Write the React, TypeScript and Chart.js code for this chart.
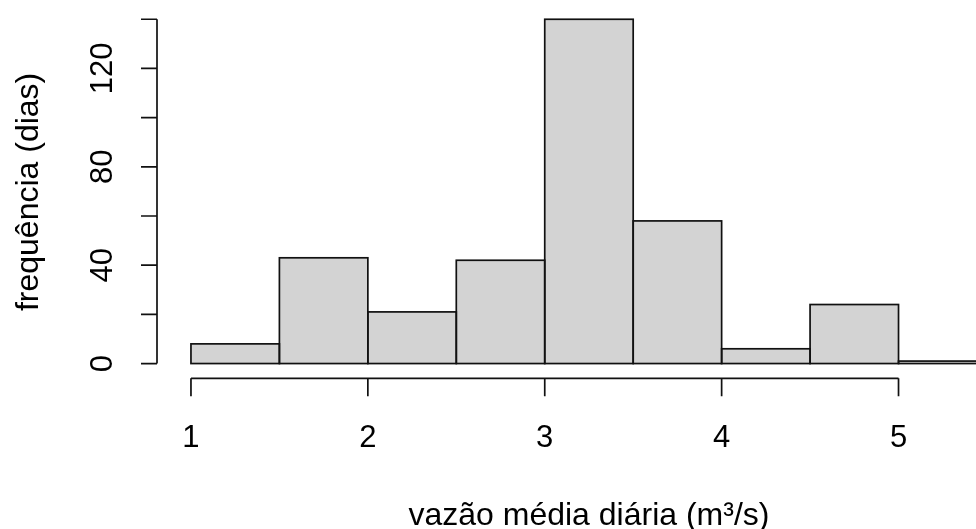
import React, { useEffect, useRef } from "react";
import { Chart, registerables } from "chart.js";

Chart.register(...registerables);

// ---- data ----
const binStarts = [1, 1.5, 2, 2.5, 3, 3.5, 4, 4.5, 5];
const binWidth = 0.5;
const counts = [8, 43, 21, 42, 140, 58, 6, 24, 1];
const xTicks = [1, 2, 3, 4, 5];
const yTicks = [0, 20, 40, 60, 80, 100, 120, 140];
const yTickLabels = [0, 40, 80, 120];
const xTitle = "vazão média diária (m³/s)";
const yTitle = "frequência (dias)";
const xRange = [0.808, 5.438];
const yRange = [-6, 145.6];
const xTitleCenter = 3.25;

const FONT = '"Liberation Sans", Arial, Helvetica, sans-serif';

const rAxesPlugin = {
  id: "rAxes",
  afterDatasetsDraw(chart: any) {
    const ctx = chart.ctx as CanvasRenderingContext2D;
    const xs = chart.scales.x;
    const ys = chart.scales.y;
    const area = chart.chartArea;
    ctx.save();
    ctx.strokeStyle = "#111";
    ctx.lineWidth = 1.7;
    // bar outlines (R-style, centered on edges)
    const meta = chart.getDatasetMeta(0);
    meta.data.forEach((el: any) => {
      const p = el.getProps(["x", "y", "base", "width"], true);
      ctx.strokeRect(p.x - p.width / 2, p.y, p.width, p.base - p.y);
    });
    // y axis
    const left = area.left;
    ctx.beginPath();
    ctx.moveTo(left, ys.getPixelForValue(yTicks[0]));
    ctx.lineTo(left, ys.getPixelForValue(yTicks[yTicks.length - 1]));
    yTicks.forEach((v) => {
      const py = ys.getPixelForValue(v);
      ctx.moveTo(left, py);
      ctx.lineTo(left - 16, py);
    });
    ctx.stroke();
    // x axis
    const bottom = area.bottom;
    ctx.beginPath();
    ctx.moveTo(xs.getPixelForValue(xTicks[0]), bottom);
    ctx.lineTo(xs.getPixelForValue(xTicks[xTicks.length - 1]), bottom);
    xTicks.forEach((v) => {
      const px = xs.getPixelForValue(v);
      ctx.moveTo(px, bottom);
      ctx.lineTo(px, bottom + 18);
    });
    ctx.stroke();

    // labels
    ctx.fillStyle = "#000";
    ctx.textAlign = "center";
    ctx.textBaseline = "alphabetic";
    ctx.font = `31px ${FONT}`;
    xTicks.forEach((v) => {
      ctx.fillText(String(v), xs.getPixelForValue(v), bottom + 69);
    });
    yTickLabels.forEach((v) => {
      ctx.save();
      ctx.translate(left - 45.5, ys.getPixelForValue(v));
      ctx.rotate(-Math.PI / 2);
      ctx.fillText(String(v), 0, 0);
      ctx.restore();
    });
    ctx.font = `32px ${FONT}`;
    ctx.fillText(xTitle, xs.getPixelForValue(xTitleCenter), bottom + 147);
    ctx.save();
    ctx.translate(left - 119, (area.top + area.bottom) / 2);
    ctx.rotate(-Math.PI / 2);
    ctx.fillText(yTitle, 0, 0);
    ctx.restore();
    ctx.restore();
  },
};

export default function App() {
  const ref = useRef<HTMLCanvasElement | null>(null);
  useEffect(() => {
    if (!ref.current) return;
    const chart = new Chart(ref.current, {
      type: "bar",
      data: {
        datasets: [
          {
            data: binStarts.map((s, i) => ({ x: s + binWidth / 2, y: counts[i] })),
            backgroundColor: "#d3d3d3",
            borderWidth: 0,
            barPercentage: 1,
            categoryPercentage: 1,
          },
        ],
      },
      options: {
        animation: false,
        responsive: false,
        layout: { padding: { left: 157, right: 0, top: 5.5, bottom: 150.7 } },
        plugins: { legend: { display: false }, tooltip: { enabled: false } },
        scales: {
          x: {
            type: "linear",
            display: false,
            offset: false,
            grid: { offset: false },
            min: xRange[0],
            max: xRange[1],
            ticks: { stepSize: 0.5, includeBounds: false },
          },
          y: {
            type: "linear",
            display: false,
            min: yRange[0],
            max: yRange[1],
          },
        },
      },
      plugins: [rAxesPlugin],
    });
    return () => chart.destroy();
  }, []);
  return (
    <div style={{ position: "fixed", left: 0, top: 0, width: 976, height: 529, background: "#fff" }}>
      <canvas ref={ref} width={976} height={529} style={{ display: "block" }} />
    </div>
  );
}
